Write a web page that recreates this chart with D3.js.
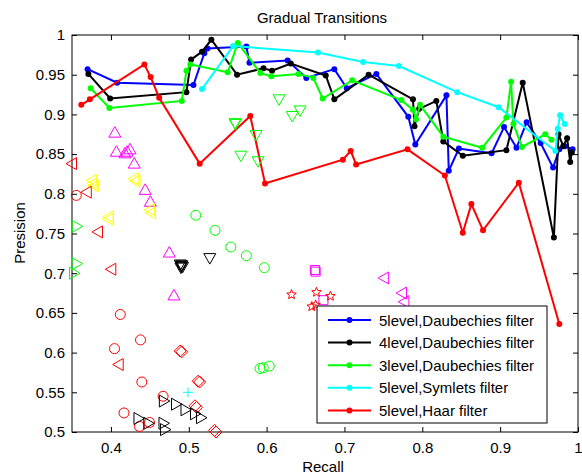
<!DOCTYPE html>
<html>
<head>
<meta charset="utf-8">
<script src="https://cdn.jsdelivr.net/npm/d3@7"></script>
<style>
  body { margin: 0; background: #fff; }
  text { font-family: "Liberation Sans", Arial, sans-serif; }
</style>
</head>
<body>
<div id="chart"></div>
<script>
// Line series (recall, precision)
const daub5 = [[0.370,0.957],[0.408,0.940],[0.506,0.937],[0.520,0.977],[0.524,0.983],[0.574,0.9855],[0.578,0.965],[0.627,0.968],[0.651,0.946],[0.687,0.957],[0.703,0.933],[0.741,0.951],[0.782,0.897],[0.791,0.862],[0.831,0.924],[0.834,0.829],[0.847,0.857],[0.889,0.851],[0.905,0.884],[0.921,0.858],[0.934,0.890],[0.952,0.864],[0.968,0.833],[0.976,0.856],[0.983,0.860],[0.993,0.856]];
const daub4 = [[0.371,0.951],[0.399,0.920],[0.497,0.928],[0.503,0.969],[0.517,0.979],[0.529,0.994],[0.562,0.950],[0.596,0.958],[0.607,0.955],[0.631,0.964],[0.676,0.949],[0.687,0.919],[0.731,0.950],[0.788,0.919],[0.790,0.885],[0.796,0.907],[0.818,0.917],[0.827,0.866],[0.852,0.848],[0.908,0.855],[0.929,0.940],[0.969,0.745],[0.975,0.875],[0.981,0.860],[0.986,0.870],[0.990,0.840],[0.992,0.852]];
const daub3 = [[0.374,0.933],[0.398,0.908],[0.491,0.917],[0.497,0.955],[0.502,0.963],[0.550,0.953],[0.563,0.990],[0.592,0.952],[0.606,0.948],[0.641,0.951],[0.660,0.946],[0.672,0.920],[0.710,0.943],[0.773,0.918],[0.788,0.906],[0.792,0.894],[0.797,0.912],[0.827,0.872],[0.877,0.858],[0.908,0.896],[0.914,0.941],[0.917,0.888],[0.928,0.859],[0.958,0.875],[0.966,0.868]];
const sym5 = [[0.517,0.932],[0.557,0.986],[0.666,0.978],[0.724,0.966],[0.770,0.961],[0.845,0.928],[0.898,0.909],[0.971,0.854],[0.974,0.882],[0.977,0.899],[0.983,0.888]];
const haar5 = [[0.362,0.912],[0.373,0.919],[0.443,0.963],[0.451,0.947],[0.462,0.921],[0.514,0.838],[0.579,0.898],[0.598,0.813],[0.698,0.843],[0.708,0.854],[0.715,0.837],[0.781,0.856],[0.829,0.823],[0.852,0.751],[0.863,0.787],[0.878,0.754],[0.924,0.814],[0.976,0.636]];

const seriesNames = ["5level,Daubechies filter", "4level,Daubechies filter", "3level,Daubechies filter", "5level,Symlets filter", "5level,Haar filter"];
const seriesColors = ["#0000ff", "#000000", "#00ff00", "#00ffff", "#ff0000"];
const seriesData = [daub5, daub4, daub3, sym5, haar5];

// Scattered markers
const magentaUp = [[0.405,0.877],[0.407,0.853],[0.418,0.851],[0.421,0.853],[0.4245,0.856],[0.430,0.838],[0.444,0.805],[0.4506,0.790],[0.475,0.726],[0.481,0.672]];
const magentaLeft = [[0.751,0.694],[0.774,0.675],[0.777,0.664]];
const magentaSquare = [[0.662,0.704],[0.663,0.702],[0.673,0.666]];
const redStar = [[0.632,0.673],[0.664,0.676],[0.682,0.671],[0.658,0.658],[0.663,0.660]];
const yellowLeft = [[0.376,0.817],[0.377,0.813],[0.378,0.810],[0.430,0.819],[0.4316,0.816],[0.3975,0.771],[0.397,0.768],[0.450,0.780],[0.4515,0.776]];
const redLeft = [[0.350,0.838],[0.369,0.802],[0.3834,0.752],[0.4005,0.705],[0.410,0.585]];
const redCircle = [[0.3555,0.798],[0.412,0.648],[0.4046,0.605],[0.438,0.616],[0.4397,0.563],[0.467,0.545],[0.4168,0.524],[0.4367,0.507],[0.4496,0.512]];
const redDiamond = [[0.489,0.602],[0.491,0.601],[0.512,0.564],[0.514,0.563],[0.508,0.533],[0.510,0.531],[0.533,0.502],[0.535,0.500]];
const cyanPlus = [[0.499,0.550]];
const blackRight = [[0.4354,0.517],[0.448,0.511],[0.468,0.539],[0.4836,0.535],[0.4958,0.528],[0.508,0.523],[0.5157,0.518],[0.4675,0.511],[0.4695,0.503]];
const blackDown = [[0.489,0.711],[0.490,0.709],[0.491,0.710],[0.492,0.708],[0.490,0.707],[0.527,0.719]];
const greenDown = [[0.5594,0.889],[0.560,0.888],[0.5864,0.874],[0.567,0.848],[0.589,0.841],[0.616,0.919],[0.633,0.898],[0.643,0.905]];
const greenCircle = [[0.509,0.773],[0.5337,0.754],[0.554,0.733],[0.574,0.722],[0.597,0.707],[0.5915,0.580],[0.5957,0.581],[0.6034,0.583]];
const greenRight = [[0.356,0.759],[0.3558,0.712],[0.3526,0.700]];

const xTicks = [0.4, 0.5, 0.6, 0.7, 0.8, 0.9, 1];
const yTicks = [0.5, 0.55, 0.6, 0.65, 0.7, 0.75, 0.8, 0.85, 0.9, 0.95, 1];

const width = 582, height = 474;
const plotLeft = 72, plotRight = 578, plotTop = 35, plotBottom = 432;

const svg = d3.select('#chart')
    .append('svg')
    .attr('width', width)
    .attr('height', height);

const x = d3.scaleLinear().domain([0.35, 1]).range([plotLeft, plotRight]);
const y = d3.scaleLinear().domain([0.5, 1]).range([plotBottom, plotTop]);

// Axes with inward ticks
const fmt = d => String(d);
const styleAxis = g => {
    g.select('.domain').remove();
    g.selectAll('.tick line').attr('stroke', '#000');
    g.selectAll('.tick text').attr('fill', '#000').style('font-size', '15px')
        .style('font-family', '"Liberation Sans", Arial, sans-serif');
};
svg.append('g').attr('transform', `translate(0,${plotBottom})`)
    .call(d3.axisBottom(x).tickValues(xTicks).tickFormat(fmt).tickSizeInner(-5).tickSizeOuter(0).tickPadding(10))
    .call(styleAxis);
svg.append('g').attr('transform', `translate(0,${plotTop})`)
    .call(d3.axisTop(x).tickValues(xTicks).tickFormat('').tickSizeInner(-5).tickSizeOuter(0))
    .call(styleAxis);
svg.append('g').attr('transform', `translate(${plotLeft},0)`)
    .call(d3.axisLeft(y).tickValues(yTicks).tickFormat(fmt).tickSizeInner(-5).tickSizeOuter(0).tickPadding(7))
    .call(styleAxis);
svg.append('g').attr('transform', `translate(${plotRight},0)`)
    .call(d3.axisRight(y).tickValues(yTicks).tickFormat('').tickSizeInner(-5).tickSizeOuter(0))
    .call(styleAxis);

svg.append('rect')
    .attr('x', plotLeft).attr('y', plotTop)
    .attr('width', plotRight - plotLeft).attr('height', plotBottom - plotTop)
    .attr('fill', 'none').attr('stroke', '#000').attr('stroke-width', 1);

// Lines with dot markers
const line = d3.line().x(d => x(d[0])).y(d => y(d[1]));
seriesData.forEach((data, i) => {
    const g = svg.append('g');
    g.append('path')
        .datum(data)
        .attr('d', line)
        .attr('fill', 'none')
        .attr('stroke', seriesColors[i])
        .attr('stroke-width', 2);
    g.selectAll('circle')
        .data(data)
        .enter()
        .append('circle')
        .attr('cx', d => x(d[0]))
        .attr('cy', d => y(d[1]))
        .attr('r', 3)
        .attr('fill', seriesColors[i]);
});

// Marker shapes
const starPath = (() => {
    let p = '';
    for (let k = 0; k < 10; k++) {
        const r = k % 2 === 0 ? 5 : 2.2;
        const a = -Math.PI / 2 + k * Math.PI / 5;
        p += (k === 0 ? 'M' : 'L') + (r * Math.cos(a)).toFixed(2) + ',' + (r * Math.sin(a)).toFixed(2);
    }
    return p + 'Z';
})();
const shapes = {
    up: 'M0,-6L6,4.5L-6,4.5Z',
    down: 'M0,6L6,-4.5L-6,-4.5Z',
    left: 'M-6,0L4.5,-6L4.5,6Z',
    right: 'M6,0L-4.5,-6L-4.5,6Z',
    circle: 'M5,0A5,5 0 1,1 -5,0A5,5 0 1,1 5,0Z',
    square: 'M-4.5,-4.5h9v9h-9Z',
    diamond: 'M0,-6L6,0L0,6L-6,0Z',
    star: starPath,
    plus: 'M-5,0H5M0,-5V5'
};

const scatterSets = [
    [magentaUp, 'up', '#ff00ff'],
    [magentaLeft, 'left', '#ff00ff'],
    [magentaSquare, 'square', '#ff00ff'],
    [redStar, 'star', '#ff0000'],
    [yellowLeft, 'left', '#ffff00'],
    [redLeft, 'left', '#ff0000'],
    [redCircle, 'circle', '#ff0000'],
    [redDiamond, 'diamond', '#ff0000'],
    [cyanPlus, 'plus', '#00ffff'],
    [blackRight, 'right', '#000000'],
    [blackDown, 'down', '#000000'],
    [greenDown, 'down', '#00ff00'],
    [greenCircle, 'circle', '#00ff00'],
    [greenRight, 'right', '#00ff00']
];
scatterSets.forEach(([data, shape, color]) => {
    svg.append('g').selectAll('path')
        .data(data)
        .enter()
        .append('path')
        .attr('d', shapes[shape])
        .attr('transform', d => `translate(${x(d[0])},${y(d[1])})`)
        .attr('fill', 'none')
        .attr('stroke', color)
        .attr('stroke-width', 1);
});

// Legend
const legend = svg.append('g').attr('transform', 'translate(317,306)');
legend.append('rect')
    .attr('width', 230).attr('height', 117)
    .attr('fill', '#fff').attr('stroke', '#000').attr('stroke-width', 1);
seriesNames.forEach((name, i) => {
    const ly = 14 + i * 22.6;
    legend.append('line')
        .attr('x1', 11).attr('x2', 54).attr('y1', ly).attr('y2', ly)
        .attr('stroke', seriesColors[i]).attr('stroke-width', 2);
    legend.append('circle')
        .attr('cx', 32.5).attr('cy', ly).attr('r', 3)
        .attr('fill', seriesColors[i]);
    legend.append('text')
        .attr('x', 62).attr('y', ly + 5.5)
        .style('font-size', '15px')
        .text(name);
});

// Title and axis labels
svg.append('text')
    .attr('x', 322).attr('y', 23)
    .attr('text-anchor', 'middle')
    .style('font-size', '15px')
    .text('Gradual Transitions');
svg.append('text')
    .attr('x', 323).attr('y', 472)
    .attr('text-anchor', 'middle')
    .style('font-size', '15px')
    .text('Recall');
svg.append('text')
    .attr('transform', 'translate(25,233) rotate(-90)')
    .attr('text-anchor', 'middle')
    .style('font-size', '15px')
    .text('Presision');
</script>
</body>
</html>
